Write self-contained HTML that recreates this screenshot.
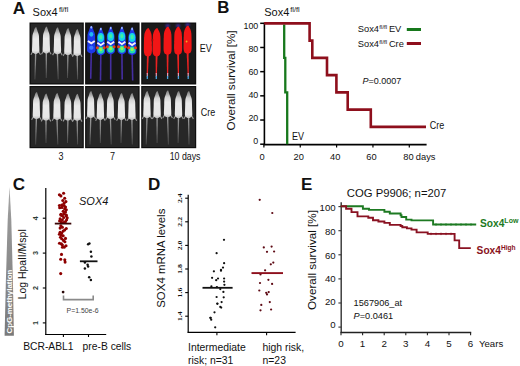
<!DOCTYPE html>
<html><head><meta charset="utf-8"><style>
html,body{margin:0;padding:0;background:#fff;}
body{width:520px;height:366px;overflow:hidden;}
svg{display:block;}
</style></head><body>
<svg width="520" height="366" viewBox="0 0 520 366">
<rect width="520" height="366" fill="#fff"/>
<text x="12.8" y="13.5" font-size="17.2" text-anchor="start" font-weight="bold" font-style="normal" fill="#111" font-family='"Liberation Sans", sans-serif' >A</text>
<text x="32.6" y="15.8" font-size="11" fill="#111" font-family='"Liberation Sans", sans-serif'>Sox4<tspan font-size="7.4" dx="1.2" dy="-4.2">fl/fl</tspan></text>
<defs>
<linearGradient id="gw" x1="0" y1="0" x2="0" y2="1"><stop offset="0" stop-color="#7c7c7c"/><stop offset="0.12" stop-color="#a2a2a2"/><stop offset="0.26" stop-color="#d4d4d4"/><stop offset="0.45" stop-color="#eaeaea"/><stop offset="0.88" stop-color="#e6e6e6"/><stop offset="1" stop-color="#c0c0c0"/></linearGradient>
<linearGradient id="gt" x1="0" y1="0" x2="0" y2="1"><stop offset="0" stop-color="#a0a0a0"/><stop offset="0.5" stop-color="#7c7c7c"/><stop offset="1" stop-color="#444444"/></linearGradient>
<linearGradient id="gtri" x1="0" y1="0" x2="0" y2="1"><stop offset="0" stop-color="#a8a8a8"/><stop offset="0.2" stop-color="#989898"/><stop offset="1" stop-color="#7a7a7a"/></linearGradient>
<filter id="bl" filterUnits="userSpaceOnUse" x="0" y="0" width="520" height="366"><feGaussianBlur stdDeviation="0.5"/></filter>
<filter id="bl2" filterUnits="userSpaceOnUse" x="0" y="0" width="520" height="366"><feGaussianBlur stdDeviation="0.8"/></filter>
</defs>
<rect x="29.5" y="22.5" width="54.3" height="62.0" fill="#0e0e0e"/>
<rect x="30.7" y="23.7" width="51.9" height="59.6" fill="#272727"/>
<polygon points="35.00,52.50 36.40,52.50 35.40,79.50 34.40,79.50" fill="url(#gt)" filter="url(#bl)"/>
<path d="M32.90,51.30 L30.90,54.70 M38.50,51.30 L40.50,54.70" stroke="#9a9a9a" stroke-width="1.1" fill="none" filter="url(#bl)"/>
<path d="M36.10,26.90 C36.43,26.90 36.52,27.90 36.70,28.40 C36.88,28.90 37.04,29.40 37.20,29.90 C37.36,30.40 37.48,30.90 37.65,31.40 C37.83,31.90 38.08,32.40 38.25,32.90 C38.42,33.40 38.58,33.82 38.70,34.40 C38.83,34.98 38.93,35.32 39.00,36.40 C39.07,37.48 39.06,39.32 39.10,40.90 C39.14,42.48 39.20,44.40 39.25,45.90 C39.30,47.40 39.42,48.90 39.40,49.90 C39.38,50.90 39.37,51.37 39.15,51.90 C38.93,52.43 38.48,52.80 38.10,53.10 C37.73,53.40 37.30,53.57 36.90,53.70 C36.50,53.83 36.10,53.90 35.70,53.90 C35.30,53.90 34.90,53.83 34.50,53.70 C34.10,53.57 33.68,53.40 33.30,53.10 C32.93,52.80 32.47,52.43 32.25,51.90 C32.03,51.37 32.02,50.90 32.00,49.90 C31.98,48.90 32.10,47.40 32.15,45.90 C32.20,44.40 32.26,42.48 32.30,40.90 C32.34,39.32 32.33,37.48 32.40,36.40 C32.47,35.32 32.58,34.98 32.70,34.40 C32.83,33.82 32.98,33.40 33.15,32.90 C33.33,32.40 33.58,31.90 33.75,31.40 C33.92,30.90 34.04,30.40 34.20,29.90 C34.36,29.40 34.38,28.90 34.70,28.40 C35.02,27.90 35.77,26.90 36.10,26.90 Z" fill="url(#gw)" filter="url(#bl)"/>
<polygon points="45.60,52.00 47.00,52.00 46.80,78.00 45.80,78.00" fill="url(#gt)" filter="url(#bl)"/>
<path d="M43.50,50.80 L41.50,54.20 M49.10,50.80 L51.10,54.20" stroke="#9a9a9a" stroke-width="1.1" fill="none" filter="url(#bl)"/>
<path d="M46.70,26.40 C47.03,26.40 47.12,27.40 47.30,27.90 C47.48,28.40 47.64,28.90 47.80,29.40 C47.96,29.90 48.08,30.40 48.25,30.90 C48.42,31.40 48.67,31.90 48.85,32.40 C49.02,32.90 49.17,33.32 49.30,33.90 C49.42,34.48 49.53,34.82 49.60,35.90 C49.67,36.98 49.66,38.82 49.70,40.40 C49.74,41.98 49.80,43.90 49.85,45.40 C49.90,46.90 50.02,48.40 50.00,49.40 C49.98,50.40 49.97,50.87 49.75,51.40 C49.53,51.93 49.07,52.30 48.70,52.60 C48.32,52.90 47.90,53.07 47.50,53.20 C47.10,53.33 46.70,53.40 46.30,53.40 C45.90,53.40 45.50,53.33 45.10,53.20 C44.70,53.07 44.27,52.90 43.90,52.60 C43.52,52.30 43.07,51.93 42.85,51.40 C42.63,50.87 42.62,50.40 42.60,49.40 C42.58,48.40 42.70,46.90 42.75,45.40 C42.80,43.90 42.86,41.98 42.90,40.40 C42.94,38.82 42.93,36.98 43.00,35.90 C43.07,34.82 43.17,34.48 43.30,33.90 C43.42,33.32 43.58,32.90 43.75,32.40 C43.92,31.90 44.17,31.40 44.35,30.90 C44.52,30.40 44.64,29.90 44.80,29.40 C44.96,28.90 44.98,28.40 45.30,27.90 C45.62,27.40 46.37,26.40 46.70,26.40 Z" fill="url(#gw)" filter="url(#bl)"/>
<polygon points="56.70,52.90 58.10,52.90 58.70,79.50 57.70,79.50" fill="url(#gt)" filter="url(#bl)"/>
<path d="M54.60,51.70 L52.60,55.10 M60.20,51.70 L62.20,55.10" stroke="#9a9a9a" stroke-width="1.1" fill="none" filter="url(#bl)"/>
<path d="M57.80,27.30 C58.13,27.30 58.22,28.30 58.40,28.80 C58.58,29.30 58.74,29.80 58.90,30.30 C59.06,30.80 59.18,31.30 59.35,31.80 C59.52,32.30 59.77,32.80 59.95,33.30 C60.12,33.80 60.27,34.22 60.40,34.80 C60.52,35.38 60.63,35.72 60.70,36.80 C60.77,37.88 60.76,39.72 60.80,41.30 C60.84,42.88 60.90,44.80 60.95,46.30 C61.00,47.80 61.12,49.30 61.10,50.30 C61.08,51.30 61.07,51.77 60.85,52.30 C60.63,52.83 60.17,53.20 59.80,53.50 C59.42,53.80 59.00,53.97 58.60,54.10 C58.20,54.23 57.80,54.30 57.40,54.30 C57.00,54.30 56.60,54.23 56.20,54.10 C55.80,53.97 55.38,53.80 55.00,53.50 C54.62,53.20 54.17,52.83 53.95,52.30 C53.73,51.77 53.72,51.30 53.70,50.30 C53.68,49.30 53.80,47.80 53.85,46.30 C53.90,44.80 53.96,42.88 54.00,41.30 C54.04,39.72 54.03,37.88 54.10,36.80 C54.17,35.72 54.27,35.38 54.40,34.80 C54.52,34.22 54.68,33.80 54.85,33.30 C55.02,32.80 55.27,32.30 55.45,31.80 C55.62,31.30 55.74,30.80 55.90,30.30 C56.06,29.80 56.08,29.30 56.40,28.80 C56.72,28.30 57.47,27.30 57.80,27.30 Z" fill="url(#gw)" filter="url(#bl)"/>
<polygon points="67.20,53.70 68.60,53.70 68.00,78.00 67.00,78.00" fill="url(#gt)" filter="url(#bl)"/>
<path d="M65.10,52.50 L63.10,55.90 M70.70,52.50 L72.70,55.90" stroke="#9a9a9a" stroke-width="1.1" fill="none" filter="url(#bl)"/>
<path d="M68.30,28.10 C68.63,28.10 68.72,29.10 68.90,29.60 C69.08,30.10 69.24,30.60 69.40,31.10 C69.56,31.60 69.68,32.10 69.85,32.60 C70.03,33.10 70.28,33.60 70.45,34.10 C70.62,34.60 70.78,35.02 70.90,35.60 C71.03,36.18 71.13,36.52 71.20,37.60 C71.27,38.68 71.26,40.52 71.30,42.10 C71.34,43.68 71.40,45.60 71.45,47.10 C71.50,48.60 71.62,50.10 71.60,51.10 C71.58,52.10 71.57,52.57 71.35,53.10 C71.13,53.63 70.68,54.00 70.30,54.30 C69.93,54.60 69.50,54.77 69.10,54.90 C68.70,55.03 68.30,55.10 67.90,55.10 C67.50,55.10 67.10,55.03 66.70,54.90 C66.30,54.77 65.88,54.60 65.50,54.30 C65.12,54.00 64.67,53.63 64.45,53.10 C64.23,52.57 64.22,52.10 64.20,51.10 C64.18,50.10 64.30,48.60 64.35,47.10 C64.40,45.60 64.46,43.68 64.50,42.10 C64.54,40.52 64.53,38.68 64.60,37.60 C64.67,36.52 64.78,36.18 64.90,35.60 C65.03,35.02 65.18,34.60 65.35,34.10 C65.53,33.60 65.78,33.10 65.95,32.60 C66.12,32.10 66.24,31.60 66.40,31.10 C66.56,30.60 66.58,30.10 66.90,29.60 C67.22,29.10 67.97,28.10 68.30,28.10 Z" fill="url(#gw)" filter="url(#bl)"/>
<polygon points="76.50,54.60 77.90,54.60 78.10,79.50 77.10,79.50" fill="url(#gt)" filter="url(#bl)"/>
<path d="M74.40,53.40 L72.40,56.80 M80.00,53.40 L82.00,56.80" stroke="#9a9a9a" stroke-width="1.1" fill="none" filter="url(#bl)"/>
<path d="M77.60,29.00 C77.93,29.00 78.02,30.00 78.20,30.50 C78.38,31.00 78.54,31.50 78.70,32.00 C78.86,32.50 78.98,33.00 79.15,33.50 C79.33,34.00 79.58,34.50 79.75,35.00 C79.92,35.50 80.08,35.92 80.20,36.50 C80.33,37.08 80.43,37.42 80.50,38.50 C80.57,39.58 80.56,41.42 80.60,43.00 C80.64,44.58 80.70,46.50 80.75,48.00 C80.80,49.50 80.92,51.00 80.90,52.00 C80.88,53.00 80.87,53.47 80.65,54.00 C80.43,54.53 79.98,54.90 79.60,55.20 C79.23,55.50 78.80,55.67 78.40,55.80 C78.00,55.93 77.60,56.00 77.20,56.00 C76.80,56.00 76.40,55.93 76.00,55.80 C75.60,55.67 75.17,55.50 74.80,55.20 C74.42,54.90 73.97,54.53 73.75,54.00 C73.53,53.47 73.52,53.00 73.50,52.00 C73.48,51.00 73.60,49.50 73.65,48.00 C73.70,46.50 73.76,44.58 73.80,43.00 C73.84,41.42 73.83,39.58 73.90,38.50 C73.97,37.42 74.08,37.08 74.20,36.50 C74.33,35.92 74.48,35.50 74.65,35.00 C74.83,34.50 75.08,34.00 75.25,33.50 C75.42,33.00 75.54,32.50 75.70,32.00 C75.86,31.50 75.88,31.00 76.20,30.50 C76.52,30.00 77.27,29.00 77.60,29.00 Z" fill="url(#gw)" filter="url(#bl)"/>
<rect x="29.5" y="86.0" width="54.3" height="62.19999999999999" fill="#0e0e0e"/>
<rect x="30.7" y="87.2" width="51.9" height="59.79999999999999" fill="#272727"/>
<polygon points="35.70,117.60 37.10,117.60 36.10,144.50 35.10,144.50" fill="url(#gt)" filter="url(#bl)"/>
<path d="M33.60,116.40 L31.60,119.80 M39.20,116.40 L41.20,119.80" stroke="#9a9a9a" stroke-width="1.1" fill="none" filter="url(#bl)"/>
<path d="M36.80,92.00 C37.13,92.00 37.22,93.00 37.40,93.50 C37.58,94.00 37.74,94.50 37.90,95.00 C38.06,95.50 38.18,96.00 38.35,96.50 C38.52,97.00 38.77,97.50 38.95,98.00 C39.12,98.50 39.27,98.92 39.40,99.50 C39.52,100.08 39.63,100.42 39.70,101.50 C39.77,102.58 39.76,104.42 39.80,106.00 C39.84,107.58 39.90,109.50 39.95,111.00 C40.00,112.50 40.12,114.00 40.10,115.00 C40.08,116.00 40.07,116.47 39.85,117.00 C39.63,117.53 39.17,117.90 38.80,118.20 C38.42,118.50 38.00,118.67 37.60,118.80 C37.20,118.93 36.80,119.00 36.40,119.00 C36.00,119.00 35.60,118.93 35.20,118.80 C34.80,118.67 34.38,118.50 34.00,118.20 C33.62,117.90 33.17,117.53 32.95,117.00 C32.73,116.47 32.72,116.00 32.70,115.00 C32.68,114.00 32.80,112.50 32.85,111.00 C32.90,109.50 32.96,107.58 33.00,106.00 C33.04,104.42 33.03,102.58 33.10,101.50 C33.17,100.42 33.27,100.08 33.40,99.50 C33.52,98.92 33.68,98.50 33.85,98.00 C34.02,97.50 34.27,97.00 34.45,96.50 C34.62,96.00 34.74,95.50 34.90,95.00 C35.06,94.50 35.08,94.00 35.40,93.50 C35.72,93.00 36.47,92.00 36.80,92.00 Z" fill="url(#gw)" filter="url(#bl)"/>
<polygon points="45.30,119.20 46.70,119.20 46.50,143.00 45.50,143.00" fill="url(#gt)" filter="url(#bl)"/>
<path d="M43.20,118.00 L41.20,121.40 M48.80,118.00 L50.80,121.40" stroke="#9a9a9a" stroke-width="1.1" fill="none" filter="url(#bl)"/>
<path d="M46.40,93.60 C46.73,93.60 46.82,94.60 47.00,95.10 C47.18,95.60 47.34,96.10 47.50,96.60 C47.66,97.10 47.78,97.60 47.95,98.10 C48.12,98.60 48.38,99.10 48.55,99.60 C48.72,100.10 48.88,100.52 49.00,101.10 C49.12,101.68 49.23,102.02 49.30,103.10 C49.37,104.18 49.36,106.02 49.40,107.60 C49.44,109.18 49.50,111.10 49.55,112.60 C49.60,114.10 49.72,115.60 49.70,116.60 C49.68,117.60 49.67,118.07 49.45,118.60 C49.23,119.13 48.77,119.50 48.40,119.80 C48.02,120.10 47.60,120.27 47.20,120.40 C46.80,120.53 46.40,120.60 46.00,120.60 C45.60,120.60 45.20,120.53 44.80,120.40 C44.40,120.27 43.98,120.10 43.60,119.80 C43.23,119.50 42.77,119.13 42.55,118.60 C42.33,118.07 42.32,117.60 42.30,116.60 C42.28,115.60 42.40,114.10 42.45,112.60 C42.50,111.10 42.56,109.18 42.60,107.60 C42.64,106.02 42.63,104.18 42.70,103.10 C42.77,102.02 42.88,101.68 43.00,101.10 C43.12,100.52 43.28,100.10 43.45,99.60 C43.62,99.10 43.88,98.60 44.05,98.10 C44.22,97.60 44.34,97.10 44.50,96.60 C44.66,96.10 44.68,95.60 45.00,95.10 C45.32,94.60 46.07,93.60 46.40,93.60 Z" fill="url(#gw)" filter="url(#bl)"/>
<polygon points="56.30,118.50 57.70,118.50 58.30,144.50 57.30,144.50" fill="url(#gt)" filter="url(#bl)"/>
<path d="M54.20,117.30 L52.20,120.70 M59.80,117.30 L61.80,120.70" stroke="#9a9a9a" stroke-width="1.1" fill="none" filter="url(#bl)"/>
<path d="M57.40,92.90 C57.73,92.90 57.82,93.90 58.00,94.40 C58.18,94.90 58.34,95.40 58.50,95.90 C58.66,96.40 58.78,96.90 58.95,97.40 C59.12,97.90 59.38,98.40 59.55,98.90 C59.72,99.40 59.88,99.82 60.00,100.40 C60.12,100.98 60.23,101.32 60.30,102.40 C60.37,103.48 60.36,105.32 60.40,106.90 C60.44,108.48 60.50,110.40 60.55,111.90 C60.60,113.40 60.72,114.90 60.70,115.90 C60.68,116.90 60.67,117.37 60.45,117.90 C60.23,118.43 59.77,118.80 59.40,119.10 C59.02,119.40 58.60,119.57 58.20,119.70 C57.80,119.83 57.40,119.90 57.00,119.90 C56.60,119.90 56.20,119.83 55.80,119.70 C55.40,119.57 54.98,119.40 54.60,119.10 C54.23,118.80 53.77,118.43 53.55,117.90 C53.33,117.37 53.32,116.90 53.30,115.90 C53.28,114.90 53.40,113.40 53.45,111.90 C53.50,110.40 53.56,108.48 53.60,106.90 C53.64,105.32 53.63,103.48 53.70,102.40 C53.77,101.32 53.88,100.98 54.00,100.40 C54.12,99.82 54.28,99.40 54.45,98.90 C54.62,98.40 54.88,97.90 55.05,97.40 C55.22,96.90 55.34,96.40 55.50,95.90 C55.66,95.40 55.68,94.90 56.00,94.40 C56.32,93.90 57.07,92.90 57.40,92.90 Z" fill="url(#gw)" filter="url(#bl)"/>
<polygon points="67.20,119.20 68.60,119.20 68.00,143.00 67.00,143.00" fill="url(#gt)" filter="url(#bl)"/>
<path d="M65.10,118.00 L63.10,121.40 M70.70,118.00 L72.70,121.40" stroke="#9a9a9a" stroke-width="1.1" fill="none" filter="url(#bl)"/>
<path d="M68.30,93.60 C68.63,93.60 68.72,94.60 68.90,95.10 C69.08,95.60 69.24,96.10 69.40,96.60 C69.56,97.10 69.68,97.60 69.85,98.10 C70.03,98.60 70.28,99.10 70.45,99.60 C70.62,100.10 70.78,100.52 70.90,101.10 C71.03,101.68 71.13,102.02 71.20,103.10 C71.27,104.18 71.26,106.02 71.30,107.60 C71.34,109.18 71.40,111.10 71.45,112.60 C71.50,114.10 71.62,115.60 71.60,116.60 C71.58,117.60 71.57,118.07 71.35,118.60 C71.13,119.13 70.68,119.50 70.30,119.80 C69.93,120.10 69.50,120.27 69.10,120.40 C68.70,120.53 68.30,120.60 67.90,120.60 C67.50,120.60 67.10,120.53 66.70,120.40 C66.30,120.27 65.88,120.10 65.50,119.80 C65.12,119.50 64.67,119.13 64.45,118.60 C64.23,118.07 64.22,117.60 64.20,116.60 C64.18,115.60 64.30,114.10 64.35,112.60 C64.40,111.10 64.46,109.18 64.50,107.60 C64.54,106.02 64.53,104.18 64.60,103.10 C64.67,102.02 64.78,101.68 64.90,101.10 C65.03,100.52 65.18,100.10 65.35,99.60 C65.53,99.10 65.78,98.60 65.95,98.10 C66.12,97.60 66.24,97.10 66.40,96.60 C66.56,96.10 66.58,95.60 66.90,95.10 C67.22,94.60 67.97,93.60 68.30,93.60 Z" fill="url(#gw)" filter="url(#bl)"/>
<polygon points="76.50,119.40 77.90,119.40 78.10,144.50 77.10,144.50" fill="url(#gt)" filter="url(#bl)"/>
<path d="M74.40,118.20 L72.40,121.60 M80.00,118.20 L82.00,121.60" stroke="#9a9a9a" stroke-width="1.1" fill="none" filter="url(#bl)"/>
<path d="M77.60,93.80 C77.93,93.80 78.02,94.80 78.20,95.30 C78.38,95.80 78.54,96.30 78.70,96.80 C78.86,97.30 78.98,97.80 79.15,98.30 C79.33,98.80 79.58,99.30 79.75,99.80 C79.92,100.30 80.08,100.72 80.20,101.30 C80.33,101.88 80.43,102.22 80.50,103.30 C80.57,104.38 80.56,106.22 80.60,107.80 C80.64,109.38 80.70,111.30 80.75,112.80 C80.80,114.30 80.92,115.80 80.90,116.80 C80.88,117.80 80.87,118.27 80.65,118.80 C80.43,119.33 79.98,119.70 79.60,120.00 C79.23,120.30 78.80,120.47 78.40,120.60 C78.00,120.73 77.60,120.80 77.20,120.80 C76.80,120.80 76.40,120.73 76.00,120.60 C75.60,120.47 75.17,120.30 74.80,120.00 C74.42,119.70 73.97,119.33 73.75,118.80 C73.53,118.27 73.52,117.80 73.50,116.80 C73.48,115.80 73.60,114.30 73.65,112.80 C73.70,111.30 73.76,109.38 73.80,107.80 C73.84,106.22 73.83,104.38 73.90,103.30 C73.97,102.22 74.08,101.88 74.20,101.30 C74.33,100.72 74.48,100.30 74.65,99.80 C74.83,99.30 75.08,98.80 75.25,98.30 C75.42,97.80 75.54,97.30 75.70,96.80 C75.86,96.30 75.88,95.80 76.20,95.30 C76.52,94.80 77.27,93.80 77.60,93.80 Z" fill="url(#gw)" filter="url(#bl)"/>
<rect x="85.1" y="86.0" width="54.5" height="62.19999999999999" fill="#0e0e0e"/>
<rect x="86.3" y="87.2" width="52.1" height="59.79999999999999" fill="#272727"/>
<polygon points="90.10,116.60 91.50,116.60 90.50,144.50 89.50,144.50" fill="url(#gt)" filter="url(#bl)"/>
<path d="M88.00,115.40 L86.00,118.80 M93.60,115.40 L95.60,118.80" stroke="#9a9a9a" stroke-width="1.1" fill="none" filter="url(#bl)"/>
<path d="M91.20,91.00 C91.53,91.00 91.62,92.00 91.80,92.50 C91.98,93.00 92.14,93.50 92.30,94.00 C92.46,94.50 92.58,95.00 92.75,95.50 C92.92,96.00 93.17,96.50 93.35,97.00 C93.52,97.50 93.67,97.92 93.80,98.50 C93.92,99.08 94.03,99.42 94.10,100.50 C94.17,101.58 94.16,103.42 94.20,105.00 C94.24,106.58 94.30,108.50 94.35,110.00 C94.40,111.50 94.52,113.00 94.50,114.00 C94.48,115.00 94.47,115.47 94.25,116.00 C94.03,116.53 93.58,116.90 93.20,117.20 C92.83,117.50 92.40,117.67 92.00,117.80 C91.60,117.93 91.20,118.00 90.80,118.00 C90.40,118.00 90.00,117.93 89.60,117.80 C89.20,117.67 88.77,117.50 88.40,117.20 C88.02,116.90 87.57,116.53 87.35,116.00 C87.13,115.47 87.12,115.00 87.10,114.00 C87.08,113.00 87.20,111.50 87.25,110.00 C87.30,108.50 87.36,106.58 87.40,105.00 C87.44,103.42 87.43,101.58 87.50,100.50 C87.57,99.42 87.67,99.08 87.80,98.50 C87.92,97.92 88.08,97.50 88.25,97.00 C88.42,96.50 88.67,96.00 88.85,95.50 C89.02,95.00 89.14,94.50 89.30,94.00 C89.46,93.50 89.48,93.00 89.80,92.50 C90.12,92.00 90.87,91.00 91.20,91.00 Z" fill="url(#gw)" filter="url(#bl)"/>
<polygon points="99.70,118.50 101.10,118.50 100.90,143.00 99.90,143.00" fill="url(#gt)" filter="url(#bl)"/>
<path d="M97.60,117.30 L95.60,120.70 M103.20,117.30 L105.20,120.70" stroke="#9a9a9a" stroke-width="1.1" fill="none" filter="url(#bl)"/>
<path d="M100.80,92.90 C101.13,92.90 101.22,93.90 101.40,94.40 C101.58,94.90 101.74,95.40 101.90,95.90 C102.06,96.40 102.18,96.90 102.35,97.40 C102.53,97.90 102.78,98.40 102.95,98.90 C103.12,99.40 103.28,99.82 103.40,100.40 C103.53,100.98 103.63,101.32 103.70,102.40 C103.77,103.48 103.76,105.32 103.80,106.90 C103.84,108.48 103.90,110.40 103.95,111.90 C104.00,113.40 104.12,114.90 104.10,115.90 C104.08,116.90 104.07,117.37 103.85,117.90 C103.63,118.43 103.18,118.80 102.80,119.10 C102.43,119.40 102.00,119.57 101.60,119.70 C101.20,119.83 100.80,119.90 100.40,119.90 C100.00,119.90 99.60,119.83 99.20,119.70 C98.80,119.57 98.38,119.40 98.00,119.10 C97.62,118.80 97.17,118.43 96.95,117.90 C96.73,117.37 96.72,116.90 96.70,115.90 C96.68,114.90 96.80,113.40 96.85,111.90 C96.90,110.40 96.96,108.48 97.00,106.90 C97.04,105.32 97.03,103.48 97.10,102.40 C97.17,101.32 97.28,100.98 97.40,100.40 C97.53,99.82 97.68,99.40 97.85,98.90 C98.03,98.40 98.28,97.90 98.45,97.40 C98.62,96.90 98.74,96.40 98.90,95.90 C99.06,95.40 99.08,94.90 99.40,94.40 C99.72,93.90 100.47,92.90 100.80,92.90 Z" fill="url(#gw)" filter="url(#bl)"/>
<polygon points="109.70,117.60 111.10,117.60 111.70,144.50 110.70,144.50" fill="url(#gt)" filter="url(#bl)"/>
<path d="M107.60,116.40 L105.60,119.80 M113.20,116.40 L115.20,119.80" stroke="#9a9a9a" stroke-width="1.1" fill="none" filter="url(#bl)"/>
<path d="M110.80,92.00 C111.13,92.00 111.22,93.00 111.40,93.50 C111.58,94.00 111.74,94.50 111.90,95.00 C112.06,95.50 112.18,96.00 112.35,96.50 C112.53,97.00 112.78,97.50 112.95,98.00 C113.12,98.50 113.28,98.92 113.40,99.50 C113.53,100.08 113.63,100.42 113.70,101.50 C113.77,102.58 113.76,104.42 113.80,106.00 C113.84,107.58 113.90,109.50 113.95,111.00 C114.00,112.50 114.12,114.00 114.10,115.00 C114.08,116.00 114.07,116.47 113.85,117.00 C113.63,117.53 113.18,117.90 112.80,118.20 C112.43,118.50 112.00,118.67 111.60,118.80 C111.20,118.93 110.80,119.00 110.40,119.00 C110.00,119.00 109.60,118.93 109.20,118.80 C108.80,118.67 108.38,118.50 108.00,118.20 C107.62,117.90 107.17,117.53 106.95,117.00 C106.73,116.47 106.72,116.00 106.70,115.00 C106.68,114.00 106.80,112.50 106.85,111.00 C106.90,109.50 106.96,107.58 107.00,106.00 C107.04,104.42 107.03,102.58 107.10,101.50 C107.17,100.42 107.28,100.08 107.40,99.50 C107.53,98.92 107.68,98.50 107.85,98.00 C108.03,97.50 108.28,97.00 108.45,96.50 C108.62,96.00 108.74,95.50 108.90,95.00 C109.06,94.50 109.08,94.00 109.40,93.50 C109.72,93.00 110.47,92.00 110.80,92.00 Z" fill="url(#gw)" filter="url(#bl)"/>
<polygon points="120.70,118.50 122.10,118.50 121.50,143.00 120.50,143.00" fill="url(#gt)" filter="url(#bl)"/>
<path d="M118.60,117.30 L116.60,120.70 M124.20,117.30 L126.20,120.70" stroke="#9a9a9a" stroke-width="1.1" fill="none" filter="url(#bl)"/>
<path d="M121.80,92.90 C122.13,92.90 122.22,93.90 122.40,94.40 C122.58,94.90 122.74,95.40 122.90,95.90 C123.06,96.40 123.18,96.90 123.35,97.40 C123.53,97.90 123.78,98.40 123.95,98.90 C124.12,99.40 124.28,99.82 124.40,100.40 C124.53,100.98 124.63,101.32 124.70,102.40 C124.77,103.48 124.76,105.32 124.80,106.90 C124.84,108.48 124.90,110.40 124.95,111.90 C125.00,113.40 125.12,114.90 125.10,115.90 C125.08,116.90 125.07,117.37 124.85,117.90 C124.63,118.43 124.18,118.80 123.80,119.10 C123.43,119.40 123.00,119.57 122.60,119.70 C122.20,119.83 121.80,119.90 121.40,119.90 C121.00,119.90 120.60,119.83 120.20,119.70 C119.80,119.57 119.38,119.40 119.00,119.10 C118.62,118.80 118.17,118.43 117.95,117.90 C117.73,117.37 117.72,116.90 117.70,115.90 C117.68,114.90 117.80,113.40 117.85,111.90 C117.90,110.40 117.96,108.48 118.00,106.90 C118.04,105.32 118.03,103.48 118.10,102.40 C118.17,101.32 118.28,100.98 118.40,100.40 C118.53,99.82 118.68,99.40 118.85,98.90 C119.03,98.40 119.28,97.90 119.45,97.40 C119.62,96.90 119.74,96.40 119.90,95.90 C120.06,95.40 120.08,94.90 120.40,94.40 C120.72,93.90 121.47,92.90 121.80,92.90 Z" fill="url(#gw)" filter="url(#bl)"/>
<polygon points="131.20,118.50 132.60,118.50 132.80,144.50 131.80,144.50" fill="url(#gt)" filter="url(#bl)"/>
<path d="M129.10,117.30 L127.10,120.70 M134.70,117.30 L136.70,120.70" stroke="#9a9a9a" stroke-width="1.1" fill="none" filter="url(#bl)"/>
<path d="M132.30,92.90 C132.63,92.90 132.72,93.90 132.90,94.40 C133.08,94.90 133.24,95.40 133.40,95.90 C133.56,96.40 133.67,96.90 133.85,97.40 C134.03,97.90 134.28,98.40 134.45,98.90 C134.63,99.40 134.78,99.82 134.90,100.40 C135.03,100.98 135.13,101.32 135.20,102.40 C135.27,103.48 135.26,105.32 135.30,106.90 C135.34,108.48 135.40,110.40 135.45,111.90 C135.50,113.40 135.62,114.90 135.60,115.90 C135.58,116.90 135.57,117.37 135.35,117.90 C135.13,118.43 134.68,118.80 134.30,119.10 C133.93,119.40 133.50,119.57 133.10,119.70 C132.70,119.83 132.30,119.90 131.90,119.90 C131.50,119.90 131.10,119.83 130.70,119.70 C130.30,119.57 129.88,119.40 129.50,119.10 C129.12,118.80 128.67,118.43 128.45,117.90 C128.23,117.37 128.22,116.90 128.20,115.90 C128.18,114.90 128.30,113.40 128.35,111.90 C128.40,110.40 128.46,108.48 128.50,106.90 C128.54,105.32 128.53,103.48 128.60,102.40 C128.67,101.32 128.78,100.98 128.90,100.40 C129.03,99.82 129.17,99.40 129.35,98.90 C129.53,98.40 129.78,97.90 129.95,97.40 C130.13,96.90 130.24,96.40 130.40,95.90 C130.56,95.40 130.58,94.90 130.90,94.40 C131.22,93.90 131.97,92.90 132.30,92.90 Z" fill="url(#gw)" filter="url(#bl)"/>
<rect x="141.2" y="86.0" width="55.0" height="62.19999999999999" fill="#0e0e0e"/>
<rect x="142.39999999999998" y="87.2" width="52.6" height="59.79999999999999" fill="#272727"/>
<polygon points="146.30,116.70 147.70,116.70 146.70,144.40 145.70,144.40" fill="url(#gt)" filter="url(#bl)"/>
<path d="M144.20,115.50 L142.20,118.90 M149.80,115.50 L151.80,118.90" stroke="#9a9a9a" stroke-width="1.1" fill="none" filter="url(#bl)"/>
<path d="M147.40,91.10 C147.73,91.10 147.82,92.10 148.00,92.60 C148.18,93.10 148.34,93.60 148.50,94.10 C148.66,94.60 148.77,95.10 148.95,95.60 C149.12,96.10 149.38,96.60 149.55,97.10 C149.73,97.60 149.88,98.02 150.00,98.60 C150.12,99.18 150.23,99.52 150.30,100.60 C150.37,101.68 150.36,103.52 150.40,105.10 C150.44,106.68 150.50,108.60 150.55,110.10 C150.60,111.60 150.72,113.10 150.70,114.10 C150.68,115.10 150.67,115.57 150.45,116.10 C150.23,116.63 149.78,117.00 149.40,117.30 C149.03,117.60 148.60,117.77 148.20,117.90 C147.80,118.03 147.40,118.10 147.00,118.10 C146.60,118.10 146.20,118.03 145.80,117.90 C145.40,117.77 144.97,117.60 144.60,117.30 C144.22,117.00 143.77,116.63 143.55,116.10 C143.33,115.57 143.32,115.10 143.30,114.10 C143.28,113.10 143.40,111.60 143.45,110.10 C143.50,108.60 143.56,106.68 143.60,105.10 C143.64,103.52 143.63,101.68 143.70,100.60 C143.77,99.52 143.88,99.18 144.00,98.60 C144.12,98.02 144.27,97.60 144.45,97.10 C144.62,96.60 144.88,96.10 145.05,95.60 C145.23,95.10 145.34,94.60 145.50,94.10 C145.66,93.60 145.68,93.10 146.00,92.60 C146.32,92.10 147.07,91.10 147.40,91.10 Z" fill="url(#gw)" filter="url(#bl)"/>
<polygon points="156.40,116.70 157.80,116.70 157.60,142.90 156.60,142.90" fill="url(#gt)" filter="url(#bl)"/>
<path d="M154.30,115.50 L152.30,118.90 M159.90,115.50 L161.90,118.90" stroke="#9a9a9a" stroke-width="1.1" fill="none" filter="url(#bl)"/>
<path d="M157.50,91.10 C157.83,91.10 157.92,92.10 158.10,92.60 C158.28,93.10 158.44,93.60 158.60,94.10 C158.76,94.60 158.87,95.10 159.05,95.60 C159.22,96.10 159.47,96.60 159.65,97.10 C159.83,97.60 159.97,98.02 160.10,98.60 C160.22,99.18 160.33,99.52 160.40,100.60 C160.47,101.68 160.46,103.52 160.50,105.10 C160.54,106.68 160.60,108.60 160.65,110.10 C160.70,111.60 160.82,113.10 160.80,114.10 C160.78,115.10 160.77,115.57 160.55,116.10 C160.33,116.63 159.88,117.00 159.50,117.30 C159.12,117.60 158.70,117.77 158.30,117.90 C157.90,118.03 157.50,118.10 157.10,118.10 C156.70,118.10 156.30,118.03 155.90,117.90 C155.50,117.77 155.07,117.60 154.70,117.30 C154.32,117.00 153.87,116.63 153.65,116.10 C153.43,115.57 153.42,115.10 153.40,114.10 C153.38,113.10 153.50,111.60 153.55,110.10 C153.60,108.60 153.66,106.68 153.70,105.10 C153.74,103.52 153.73,101.68 153.80,100.60 C153.87,99.52 153.97,99.18 154.10,98.60 C154.22,98.02 154.37,97.60 154.55,97.10 C154.72,96.60 154.97,96.10 155.15,95.60 C155.33,95.10 155.44,94.60 155.60,94.10 C155.76,93.60 155.78,93.10 156.10,92.60 C156.42,92.10 157.17,91.10 157.50,91.10 Z" fill="url(#gw)" filter="url(#bl)"/>
<polygon points="166.90,115.80 168.30,115.80 168.90,144.40 167.90,144.40" fill="url(#gt)" filter="url(#bl)"/>
<path d="M164.80,114.60 L162.80,118.00 M170.40,114.60 L172.40,118.00" stroke="#9a9a9a" stroke-width="1.1" fill="none" filter="url(#bl)"/>
<path d="M168.00,90.20 C168.33,90.20 168.42,91.20 168.60,91.70 C168.78,92.20 168.94,92.70 169.10,93.20 C169.26,93.70 169.37,94.20 169.55,94.70 C169.72,95.20 169.97,95.70 170.15,96.20 C170.33,96.70 170.47,97.12 170.60,97.70 C170.72,98.28 170.83,98.62 170.90,99.70 C170.97,100.78 170.96,102.62 171.00,104.20 C171.04,105.78 171.10,107.70 171.15,109.20 C171.20,110.70 171.32,112.20 171.30,113.20 C171.28,114.20 171.27,114.67 171.05,115.20 C170.83,115.73 170.38,116.10 170.00,116.40 C169.62,116.70 169.20,116.87 168.80,117.00 C168.40,117.13 168.00,117.20 167.60,117.20 C167.20,117.20 166.80,117.13 166.40,117.00 C166.00,116.87 165.57,116.70 165.20,116.40 C164.82,116.10 164.37,115.73 164.15,115.20 C163.93,114.67 163.92,114.20 163.90,113.20 C163.88,112.20 164.00,110.70 164.05,109.20 C164.10,107.70 164.16,105.78 164.20,104.20 C164.24,102.62 164.23,100.78 164.30,99.70 C164.37,98.62 164.47,98.28 164.60,97.70 C164.72,97.12 164.87,96.70 165.05,96.20 C165.22,95.70 165.47,95.20 165.65,94.70 C165.83,94.20 165.94,93.70 166.10,93.20 C166.26,92.70 166.28,92.20 166.60,91.70 C166.92,91.20 167.67,90.20 168.00,90.20 Z" fill="url(#gw)" filter="url(#bl)"/>
<polygon points="177.80,116.70 179.20,116.70 178.60,142.90 177.60,142.90" fill="url(#gt)" filter="url(#bl)"/>
<path d="M175.70,115.50 L173.70,118.90 M181.30,115.50 L183.30,118.90" stroke="#9a9a9a" stroke-width="1.1" fill="none" filter="url(#bl)"/>
<path d="M178.90,91.10 C179.23,91.10 179.32,92.10 179.50,92.60 C179.68,93.10 179.84,93.60 180.00,94.10 C180.16,94.60 180.27,95.10 180.45,95.60 C180.62,96.10 180.88,96.60 181.05,97.10 C181.23,97.60 181.38,98.02 181.50,98.60 C181.62,99.18 181.73,99.52 181.80,100.60 C181.87,101.68 181.86,103.52 181.90,105.10 C181.94,106.68 182.00,108.60 182.05,110.10 C182.10,111.60 182.22,113.10 182.20,114.10 C182.18,115.10 182.17,115.57 181.95,116.10 C181.73,116.63 181.28,117.00 180.90,117.30 C180.53,117.60 180.10,117.77 179.70,117.90 C179.30,118.03 178.90,118.10 178.50,118.10 C178.10,118.10 177.70,118.03 177.30,117.90 C176.90,117.77 176.47,117.60 176.10,117.30 C175.72,117.00 175.27,116.63 175.05,116.10 C174.83,115.57 174.82,115.10 174.80,114.10 C174.78,113.10 174.90,111.60 174.95,110.10 C175.00,108.60 175.06,106.68 175.10,105.10 C175.14,103.52 175.13,101.68 175.20,100.60 C175.27,99.52 175.38,99.18 175.50,98.60 C175.62,98.02 175.77,97.60 175.95,97.10 C176.12,96.60 176.38,96.10 176.55,95.60 C176.73,95.10 176.84,94.60 177.00,94.10 C177.16,93.60 177.18,93.10 177.50,92.60 C177.82,92.10 178.57,91.10 178.90,91.10 Z" fill="url(#gw)" filter="url(#bl)"/>
<polygon points="187.90,116.70 189.30,116.70 189.50,144.40 188.50,144.40" fill="url(#gt)" filter="url(#bl)"/>
<path d="M185.80,115.50 L183.80,118.90 M191.40,115.50 L193.40,118.90" stroke="#9a9a9a" stroke-width="1.1" fill="none" filter="url(#bl)"/>
<path d="M189.00,91.10 C189.33,91.10 189.42,92.10 189.60,92.60 C189.78,93.10 189.94,93.60 190.10,94.10 C190.26,94.60 190.37,95.10 190.55,95.60 C190.72,96.10 190.97,96.60 191.15,97.10 C191.33,97.60 191.47,98.02 191.60,98.60 C191.72,99.18 191.83,99.52 191.90,100.60 C191.97,101.68 191.96,103.52 192.00,105.10 C192.04,106.68 192.10,108.60 192.15,110.10 C192.20,111.60 192.32,113.10 192.30,114.10 C192.28,115.10 192.27,115.57 192.05,116.10 C191.83,116.63 191.38,117.00 191.00,117.30 C190.62,117.60 190.20,117.77 189.80,117.90 C189.40,118.03 189.00,118.10 188.60,118.10 C188.20,118.10 187.80,118.03 187.40,117.90 C187.00,117.77 186.57,117.60 186.20,117.30 C185.82,117.00 185.37,116.63 185.15,116.10 C184.93,115.57 184.92,115.10 184.90,114.10 C184.88,113.10 185.00,111.60 185.05,110.10 C185.10,108.60 185.16,106.68 185.20,105.10 C185.24,103.52 185.23,101.68 185.30,100.60 C185.37,99.52 185.47,99.18 185.60,98.60 C185.72,98.02 185.87,97.60 186.05,97.10 C186.22,96.60 186.47,96.10 186.65,95.60 C186.83,95.10 186.94,94.60 187.10,94.10 C187.26,93.60 187.28,93.10 187.60,92.60 C187.92,92.10 188.67,91.10 189.00,91.10 Z" fill="url(#gw)" filter="url(#bl)"/>
<rect x="85.1" y="22.5" width="54.5" height="62.0" fill="#0e0e0e"/>
<rect x="86.3" y="23.7" width="52.1" height="59.6" fill="#161616"/>
<path d="M91.30,51.80 L90.70,78.80" stroke="#4a30b0" stroke-width="1.6" filter="url(#bl)" opacity="0.9"/>
<path d="M91.76,25.80 C92.14,25.80 92.24,26.82 92.45,27.33 C92.66,27.84 92.84,28.35 93.02,28.86 C93.21,29.37 93.34,29.88 93.54,30.39 C93.74,30.90 94.03,31.41 94.23,31.92 C94.43,32.43 94.61,32.86 94.75,33.45 C94.89,34.05 95.02,34.39 95.09,35.49 C95.17,36.59 95.16,38.46 95.21,40.08 C95.26,41.70 95.32,43.65 95.38,45.18 C95.44,46.71 95.57,48.24 95.55,49.26 C95.54,50.28 95.52,50.76 95.27,51.30 C95.02,51.84 94.49,52.22 94.06,52.52 C93.63,52.83 93.14,53.00 92.68,53.14 C92.22,53.27 91.76,53.34 91.30,53.34 C90.84,53.34 90.38,53.27 89.92,53.14 C89.46,53.00 88.97,52.83 88.54,52.52 C88.11,52.22 87.58,51.84 87.33,51.30 C87.08,50.76 87.06,50.28 87.05,49.26 C87.03,48.24 87.16,46.71 87.22,45.18 C87.28,43.65 87.34,41.70 87.39,40.08 C87.44,38.46 87.43,36.59 87.50,35.49 C87.58,34.39 87.71,34.05 87.85,33.45 C87.99,32.86 88.17,32.43 88.37,31.92 C88.57,31.41 88.86,30.90 89.06,30.39 C89.26,29.88 89.39,29.37 89.58,28.86 C89.76,28.35 89.79,27.84 90.15,27.33 C90.51,26.82 91.38,25.80 91.76,25.80 Z" fill="#1f38e8" filter="url(#bl)"/>
<ellipse cx="91.30" cy="27.30" rx="0.9" ry="1.4" fill="#a0b8ff" filter="url(#bl)"/>
<ellipse cx="91.30" cy="34.30" rx="2.0" ry="2.4" fill="#20b8f0" filter="url(#bl)"/>
<ellipse cx="91.30" cy="47.80" rx="2.2" ry="2.0" fill="#3878ff" filter="url(#bl)"/>
<path d="M87.90,41.00 L91.30,43.40 L94.70,41.00" stroke="#f6eef8" stroke-width="1.9" fill="none" filter="url(#bl)"/>
<path d="M100.80,53.60 L100.50,80.60" stroke="#4a30b0" stroke-width="1.6" filter="url(#bl)" opacity="0.9"/>
<path d="M101.26,27.60 C101.64,27.60 101.74,28.62 101.95,29.13 C102.16,29.64 102.34,30.15 102.52,30.66 C102.71,31.17 102.84,31.68 103.04,32.19 C103.24,32.70 103.53,33.21 103.73,33.72 C103.93,34.23 104.11,34.66 104.25,35.25 C104.39,35.84 104.52,36.19 104.59,37.29 C104.67,38.39 104.66,40.27 104.71,41.88 C104.76,43.50 104.82,45.45 104.88,46.98 C104.94,48.51 105.07,50.04 105.05,51.06 C105.04,52.08 105.02,52.56 104.77,53.10 C104.52,53.64 103.99,54.02 103.56,54.32 C103.13,54.63 102.64,54.80 102.18,54.94 C101.72,55.07 101.26,55.14 100.80,55.14 C100.34,55.14 99.88,55.07 99.42,54.94 C98.96,54.80 98.47,54.63 98.04,54.32 C97.61,54.02 97.08,53.64 96.83,53.10 C96.58,52.56 96.56,52.08 96.55,51.06 C96.53,50.04 96.66,48.51 96.72,46.98 C96.78,45.45 96.84,43.50 96.89,41.88 C96.94,40.27 96.93,38.39 97.00,37.29 C97.08,36.19 97.21,35.84 97.35,35.25 C97.49,34.66 97.67,34.23 97.87,33.72 C98.07,33.21 98.36,32.70 98.56,32.19 C98.76,31.68 98.89,31.17 99.08,30.66 C99.26,30.15 99.29,29.64 99.65,29.13 C100.01,28.62 100.88,27.60 101.26,27.60 Z" fill="#1f38e8" filter="url(#bl)"/>
<ellipse cx="100.80" cy="29.10" rx="0.9" ry="1.4" fill="#a0b8ff" filter="url(#bl)"/>
<ellipse cx="100.80" cy="37.60" rx="3.2" ry="4.6" fill="#18d4e8" filter="url(#bl)"/>
<ellipse cx="100.80" cy="37.10" rx="1.5" ry="2.2" fill="#40f0a0" filter="url(#bl)"/>
<ellipse cx="100.80" cy="50.10" rx="3.4" ry="3.6" fill="#20dcb0" filter="url(#bl)"/>
<ellipse cx="100.80" cy="49.60" rx="1.6" ry="1.8" fill="#90f850" filter="url(#bl)"/>
<circle cx="97.40" cy="47.80" r="1.5" fill="#e83a14" filter="url(#bl)"/>
<circle cx="104.20" cy="47.80" r="1.5" fill="#e83a14" filter="url(#bl)"/>
<path d="M97.40,42.80 L100.80,45.20 L104.20,42.80" stroke="#f6eef8" stroke-width="1.9" fill="none" filter="url(#bl)"/>
<path d="M110.70,52.60 L110.70,79.60" stroke="#4a30b0" stroke-width="1.6" filter="url(#bl)" opacity="0.9"/>
<path d="M111.16,26.60 C111.54,26.60 111.64,27.62 111.85,28.13 C112.06,28.64 112.24,29.15 112.42,29.66 C112.61,30.17 112.74,30.68 112.94,31.19 C113.14,31.70 113.43,32.21 113.63,32.72 C113.83,33.23 114.01,33.66 114.15,34.25 C114.29,34.84 114.42,35.19 114.50,36.29 C114.57,37.39 114.56,39.27 114.61,40.88 C114.66,42.50 114.72,44.45 114.78,45.98 C114.84,47.51 114.97,49.04 114.95,50.06 C114.94,51.08 114.92,51.56 114.67,52.10 C114.42,52.64 113.89,53.02 113.46,53.32 C113.03,53.63 112.54,53.80 112.08,53.94 C111.62,54.07 111.16,54.14 110.70,54.14 C110.24,54.14 109.78,54.07 109.32,53.94 C108.86,53.80 108.37,53.63 107.94,53.32 C107.51,53.02 106.98,52.64 106.73,52.10 C106.48,51.56 106.46,51.08 106.45,50.06 C106.43,49.04 106.56,47.51 106.62,45.98 C106.68,44.45 106.74,42.50 106.79,40.88 C106.84,39.27 106.83,37.39 106.91,36.29 C106.98,35.19 107.11,34.84 107.25,34.25 C107.39,33.66 107.57,33.23 107.77,32.72 C107.97,32.21 108.26,31.70 108.46,31.19 C108.66,30.68 108.79,30.17 108.98,29.66 C109.16,29.15 109.19,28.64 109.55,28.13 C109.91,27.62 110.78,26.60 111.16,26.60 Z" fill="#1f38e8" filter="url(#bl)"/>
<ellipse cx="110.70" cy="28.10" rx="0.9" ry="1.4" fill="#a0b8ff" filter="url(#bl)"/>
<ellipse cx="110.70" cy="36.60" rx="3.2" ry="4.6" fill="#18d4e8" filter="url(#bl)"/>
<ellipse cx="110.70" cy="36.10" rx="1.5" ry="2.2" fill="#40f0a0" filter="url(#bl)"/>
<ellipse cx="110.70" cy="49.10" rx="3.4" ry="3.6" fill="#20dcb0" filter="url(#bl)"/>
<ellipse cx="110.70" cy="48.60" rx="1.6" ry="1.8" fill="#90f850" filter="url(#bl)"/>
<circle cx="107.30" cy="46.80" r="1.5" fill="#e83a14" filter="url(#bl)"/>
<circle cx="114.10" cy="46.80" r="1.5" fill="#e83a14" filter="url(#bl)"/>
<path d="M107.30,41.80 L110.70,44.20 L114.10,41.80" stroke="#f6eef8" stroke-width="1.9" fill="none" filter="url(#bl)"/>
<path d="M121.90,52.60 L122.20,79.60" stroke="#4a30b0" stroke-width="1.6" filter="url(#bl)" opacity="0.9"/>
<path d="M122.36,26.60 C122.74,26.60 122.84,27.62 123.05,28.13 C123.26,28.64 123.44,29.15 123.62,29.66 C123.81,30.17 123.94,30.68 124.14,31.19 C124.34,31.70 124.63,32.21 124.83,32.72 C125.03,33.23 125.21,33.66 125.35,34.25 C125.49,34.84 125.62,35.19 125.70,36.29 C125.77,37.39 125.76,39.27 125.81,40.88 C125.86,42.50 125.92,44.45 125.98,45.98 C126.04,47.51 126.17,49.04 126.16,50.06 C126.14,51.08 126.12,51.56 125.87,52.10 C125.62,52.64 125.09,53.02 124.66,53.32 C124.23,53.63 123.74,53.80 123.28,53.94 C122.82,54.07 122.36,54.14 121.90,54.14 C121.44,54.14 120.98,54.07 120.52,53.94 C120.06,53.80 119.57,53.63 119.14,53.32 C118.71,53.02 118.18,52.64 117.93,52.10 C117.68,51.56 117.66,51.08 117.65,50.06 C117.63,49.04 117.76,47.51 117.82,45.98 C117.88,44.45 117.94,42.50 117.99,40.88 C118.04,39.27 118.03,37.39 118.11,36.29 C118.18,35.19 118.31,34.84 118.45,34.25 C118.59,33.66 118.77,33.23 118.97,32.72 C119.17,32.21 119.46,31.70 119.66,31.19 C119.86,30.68 119.99,30.17 120.18,29.66 C120.36,29.15 120.39,28.64 120.75,28.13 C121.11,27.62 121.98,26.60 122.36,26.60 Z" fill="#1f38e8" filter="url(#bl)"/>
<ellipse cx="121.90" cy="28.10" rx="0.9" ry="1.4" fill="#a0b8ff" filter="url(#bl)"/>
<ellipse cx="121.90" cy="36.60" rx="3.2" ry="4.6" fill="#18d4e8" filter="url(#bl)"/>
<ellipse cx="121.90" cy="36.10" rx="1.5" ry="2.2" fill="#40f0a0" filter="url(#bl)"/>
<ellipse cx="121.90" cy="49.10" rx="3.4" ry="3.6" fill="#20dcb0" filter="url(#bl)"/>
<ellipse cx="121.90" cy="48.60" rx="1.6" ry="1.8" fill="#90f850" filter="url(#bl)"/>
<circle cx="118.50" cy="46.80" r="1.5" fill="#e83a14" filter="url(#bl)"/>
<circle cx="125.30" cy="46.80" r="1.5" fill="#e83a14" filter="url(#bl)"/>
<path d="M118.50,41.80 L121.90,44.20 L125.30,41.80" stroke="#f6eef8" stroke-width="1.9" fill="none" filter="url(#bl)"/>
<path d="M132.10,53.50 L132.70,80.50" stroke="#4a30b0" stroke-width="1.6" filter="url(#bl)" opacity="0.9"/>
<path d="M132.56,27.50 C132.94,27.50 133.04,28.52 133.25,29.03 C133.46,29.54 133.64,30.05 133.82,30.56 C134.01,31.07 134.14,31.58 134.34,32.09 C134.54,32.60 134.83,33.11 135.03,33.62 C135.23,34.13 135.41,34.55 135.55,35.15 C135.69,35.74 135.82,36.08 135.89,37.19 C135.97,38.30 135.96,40.16 136.01,41.78 C136.06,43.40 136.12,45.35 136.18,46.88 C136.24,48.41 136.37,49.94 136.35,50.96 C136.34,51.98 136.32,52.46 136.07,53.00 C135.82,53.54 135.29,53.92 134.86,54.22 C134.43,54.53 133.94,54.70 133.48,54.84 C133.02,54.97 132.56,55.04 132.10,55.04 C131.64,55.04 131.18,54.97 130.72,54.84 C130.26,54.70 129.77,54.53 129.34,54.22 C128.91,53.92 128.38,53.54 128.13,53.00 C127.88,52.46 127.86,51.98 127.84,50.96 C127.83,49.94 127.96,48.41 128.02,46.88 C128.07,45.35 128.14,43.40 128.19,41.78 C128.24,40.16 128.23,38.30 128.31,37.19 C128.38,36.08 128.51,35.74 128.65,35.15 C128.79,34.55 128.97,34.13 129.17,33.62 C129.37,33.11 129.66,32.60 129.86,32.09 C130.06,31.58 130.19,31.07 130.38,30.56 C130.56,30.05 130.59,29.54 130.95,29.03 C131.31,28.52 132.18,27.50 132.56,27.50 Z" fill="#1f38e8" filter="url(#bl)"/>
<ellipse cx="132.10" cy="29.00" rx="0.9" ry="1.4" fill="#a0b8ff" filter="url(#bl)"/>
<ellipse cx="132.10" cy="37.50" rx="3.2" ry="4.6" fill="#18d4e8" filter="url(#bl)"/>
<ellipse cx="132.10" cy="37.00" rx="1.5" ry="2.2" fill="#40f0a0" filter="url(#bl)"/>
<ellipse cx="132.10" cy="50.00" rx="3.4" ry="3.6" fill="#20dcb0" filter="url(#bl)"/>
<ellipse cx="132.10" cy="49.50" rx="1.6" ry="1.8" fill="#90f850" filter="url(#bl)"/>
<circle cx="128.70" cy="47.70" r="1.5" fill="#e83a14" filter="url(#bl)"/>
<circle cx="135.50" cy="47.70" r="1.5" fill="#e83a14" filter="url(#bl)"/>
<path d="M128.70,42.70 L132.10,45.10 L135.50,42.70" stroke="#f6eef8" stroke-width="1.9" fill="none" filter="url(#bl)"/>
<rect x="141.2" y="22.5" width="55.0" height="62.0" fill="#0e0e0e"/>
<rect x="142.39999999999998" y="23.7" width="52.6" height="59.6" fill="#1a1a1a"/>
<polygon points="146.90,54.10 148.90,54.10 147.90,74.00 146.70,74.00" fill="#ea2020" filter="url(#bl)"/>
<path d="M147.30,73.00 L147.30,76.50" stroke="#e8a0b8" stroke-width="1.2" filter="url(#bl)"/>
<path d="M147.30,76.00 L147.30,79.00" stroke="#48a8e0" stroke-width="1.3" filter="url(#bl)"/>
<path d="M148.40,28.10 C148.90,28.10 149.08,29.10 149.40,29.60 C149.72,30.10 150.02,30.52 150.30,31.10 C150.58,31.68 150.88,32.35 151.10,33.10 C151.32,33.85 151.48,34.43 151.60,35.60 C151.72,36.77 151.75,38.35 151.80,40.10 C151.85,41.85 151.88,44.27 151.90,46.10 C151.92,47.93 151.98,49.77 151.90,51.10 C151.82,52.43 151.68,53.33 151.40,54.10 C151.12,54.87 150.78,55.32 150.20,55.70 C149.62,56.08 148.67,56.40 147.90,56.40 C147.13,56.40 146.18,56.08 145.60,55.70 C145.02,55.32 144.68,54.87 144.40,54.10 C144.12,53.33 143.98,52.43 143.90,51.10 C143.82,49.77 143.88,47.93 143.90,46.10 C143.92,44.27 143.95,41.85 144.00,40.10 C144.05,38.35 144.08,36.77 144.20,35.60 C144.32,34.43 144.48,33.85 144.70,33.10 C144.92,32.35 145.22,31.68 145.50,31.10 C145.78,30.52 145.92,30.10 146.40,29.60 C146.88,29.10 147.90,28.10 148.40,28.10 Z" fill="#f21414" filter="url(#bl)"/>
<polygon points="155.60,54.10 157.60,54.10 156.90,74.00 155.70,74.00" fill="#ea2020" filter="url(#bl)"/>
<path d="M156.30,73.00 L156.30,76.50" stroke="#e8a0b8" stroke-width="1.2" filter="url(#bl)"/>
<path d="M156.30,76.00 L156.30,79.00" stroke="#48a8e0" stroke-width="1.3" filter="url(#bl)"/>
<path d="M157.10,28.10 C157.60,28.10 157.78,29.10 158.10,29.60 C158.42,30.10 158.72,30.52 159.00,31.10 C159.28,31.68 159.58,32.35 159.80,33.10 C160.02,33.85 160.18,34.43 160.30,35.60 C160.42,36.77 160.45,38.35 160.50,40.10 C160.55,41.85 160.58,44.27 160.60,46.10 C160.62,47.93 160.68,49.77 160.60,51.10 C160.52,52.43 160.38,53.33 160.10,54.10 C159.82,54.87 159.48,55.32 158.90,55.70 C158.32,56.08 157.37,56.40 156.60,56.40 C155.83,56.40 154.88,56.08 154.30,55.70 C153.72,55.32 153.38,54.87 153.10,54.10 C152.82,53.33 152.68,52.43 152.60,51.10 C152.52,49.77 152.58,47.93 152.60,46.10 C152.62,44.27 152.65,41.85 152.70,40.10 C152.75,38.35 152.78,36.77 152.90,35.60 C153.02,34.43 153.18,33.85 153.40,33.10 C153.62,32.35 153.92,31.68 154.20,31.10 C154.48,30.52 154.62,30.10 155.10,29.60 C155.58,29.10 156.60,28.10 157.10,28.10 Z" fill="#f21414" filter="url(#bl)"/>
<polygon points="166.60,52.40 168.60,52.40 168.20,74.00 167.00,74.00" fill="#ea2020" filter="url(#bl)"/>
<path d="M167.60,73.00 L167.60,76.50" stroke="#e8a0b8" stroke-width="1.2" filter="url(#bl)"/>
<path d="M167.60,76.00 L167.60,79.00" stroke="#48a8e0" stroke-width="1.3" filter="url(#bl)"/>
<ellipse cx="167.60" cy="25.80" rx="2.0" ry="1.3" fill="#4a30d0" filter="url(#bl2)"/>
<path d="M168.10,26.40 C168.60,26.40 168.78,27.40 169.10,27.90 C169.42,28.40 169.72,28.82 170.00,29.40 C170.28,29.98 170.58,30.65 170.80,31.40 C171.02,32.15 171.18,32.73 171.30,33.90 C171.42,35.07 171.45,36.65 171.50,38.40 C171.55,40.15 171.58,42.57 171.60,44.40 C171.62,46.23 171.68,48.07 171.60,49.40 C171.52,50.73 171.38,51.63 171.10,52.40 C170.82,53.17 170.48,53.62 169.90,54.00 C169.32,54.38 168.37,54.70 167.60,54.70 C166.83,54.70 165.88,54.38 165.30,54.00 C164.72,53.62 164.38,53.17 164.10,52.40 C163.82,51.63 163.68,50.73 163.60,49.40 C163.52,48.07 163.58,46.23 163.60,44.40 C163.62,42.57 163.65,40.15 163.70,38.40 C163.75,36.65 163.78,35.07 163.90,33.90 C164.02,32.73 164.18,32.15 164.40,31.40 C164.62,30.65 164.92,29.98 165.20,29.40 C165.48,28.82 165.62,28.40 166.10,27.90 C166.58,27.40 167.60,26.40 168.10,26.40 Z" fill="#f21414" filter="url(#bl)"/>
<polygon points="177.10,52.40 179.10,52.40 179.00,74.00 177.80,74.00" fill="#ea2020" filter="url(#bl)"/>
<path d="M178.40,73.00 L178.40,76.50" stroke="#e8a0b8" stroke-width="1.2" filter="url(#bl)"/>
<path d="M178.40,76.00 L178.40,79.00" stroke="#48a8e0" stroke-width="1.3" filter="url(#bl)"/>
<ellipse cx="178.10" cy="25.80" rx="2.0" ry="1.3" fill="#4a30d0" filter="url(#bl2)"/>
<path d="M178.60,26.40 C179.10,26.40 179.28,27.40 179.60,27.90 C179.92,28.40 180.22,28.82 180.50,29.40 C180.78,29.98 181.08,30.65 181.30,31.40 C181.52,32.15 181.68,32.73 181.80,33.90 C181.92,35.07 181.95,36.65 182.00,38.40 C182.05,40.15 182.08,42.57 182.10,44.40 C182.12,46.23 182.18,48.07 182.10,49.40 C182.02,50.73 181.88,51.63 181.60,52.40 C181.32,53.17 180.98,53.62 180.40,54.00 C179.82,54.38 178.87,54.70 178.10,54.70 C177.33,54.70 176.38,54.38 175.80,54.00 C175.22,53.62 174.88,53.17 174.60,52.40 C174.32,51.63 174.18,50.73 174.10,49.40 C174.02,48.07 174.08,46.23 174.10,44.40 C174.12,42.57 174.15,40.15 174.20,38.40 C174.25,36.65 174.28,35.07 174.40,33.90 C174.52,32.73 174.68,32.15 174.90,31.40 C175.12,30.65 175.42,29.98 175.70,29.40 C175.98,28.82 176.12,28.40 176.60,27.90 C177.08,27.40 178.10,26.40 178.60,26.40 Z" fill="#f21414" filter="url(#bl)"/>
<polygon points="186.60,51.50 188.60,51.50 188.80,74.00 187.60,74.00" fill="#ea2020" filter="url(#bl)"/>
<path d="M188.20,73.00 L188.20,76.50" stroke="#e8a0b8" stroke-width="1.2" filter="url(#bl)"/>
<path d="M188.20,76.00 L188.20,79.00" stroke="#48a8e0" stroke-width="1.3" filter="url(#bl)"/>
<ellipse cx="187.60" cy="24.90" rx="2.0" ry="1.3" fill="#4a30d0" filter="url(#bl2)"/>
<path d="M188.10,25.50 C188.60,25.50 188.78,26.50 189.10,27.00 C189.42,27.50 189.72,27.92 190.00,28.50 C190.28,29.08 190.58,29.75 190.80,30.50 C191.02,31.25 191.18,31.83 191.30,33.00 C191.42,34.17 191.45,35.75 191.50,37.50 C191.55,39.25 191.58,41.67 191.60,43.50 C191.62,45.33 191.68,47.17 191.60,48.50 C191.52,49.83 191.38,50.73 191.10,51.50 C190.82,52.27 190.48,52.72 189.90,53.10 C189.32,53.48 188.37,53.80 187.60,53.80 C186.83,53.80 185.88,53.48 185.30,53.10 C184.72,52.72 184.38,52.27 184.10,51.50 C183.82,50.73 183.68,49.83 183.60,48.50 C183.52,47.17 183.58,45.33 183.60,43.50 C183.62,41.67 183.65,39.25 183.70,37.50 C183.75,35.75 183.78,34.17 183.90,33.00 C184.02,31.83 184.18,31.25 184.40,30.50 C184.62,29.75 184.92,29.08 185.20,28.50 C185.48,27.92 185.62,27.50 186.10,27.00 C186.58,26.50 187.60,25.50 188.10,25.50 Z" fill="#f21414" filter="url(#bl)"/>
<circle cx="186.6" cy="41.5" r="0.9" fill="#f0b020" filter="url(#bl)"/>
<circle cx="152.3" cy="40.0" r="1.1" fill="#901010" filter="url(#bl)"/>
<text transform="translate(199.8,52.3) scale(0.9,1)" x="0" y="0" font-size="10.0" text-anchor="start" font-weight="normal" fill="#111" font-family='"Liberation Sans", sans-serif'>EV</text>
<text transform="translate(200.8,115.6) scale(0.9,1)" x="0" y="0" font-size="10.0" text-anchor="start" font-weight="normal" fill="#111" font-family='"Liberation Sans", sans-serif'>Cre</text>
<text transform="translate(60.9,159.6) scale(0.9,1)" x="0" y="0" font-size="10.0" text-anchor="middle" font-weight="normal" fill="#111" font-family='"Liberation Sans", sans-serif'>3</text>
<text transform="translate(112.5,159.6) scale(0.9,1)" x="0" y="0" font-size="10.0" text-anchor="middle" font-weight="normal" fill="#111" font-family='"Liberation Sans", sans-serif'>7</text>
<text transform="translate(169.7,159.6) scale(0.88,1)" x="0" y="0" font-size="10.0" text-anchor="start" font-weight="normal" fill="#111" font-family='"Liberation Sans", sans-serif'>10 days</text>
<text x="217.2" y="13.4" font-size="16.8" text-anchor="start" font-weight="bold" font-style="normal" fill="#111" font-family='"Liberation Sans", sans-serif' >B</text>
<text x="264.2" y="15.8" font-size="11" fill="#111" font-family='"Liberation Sans", sans-serif'>Sox4<tspan font-size="7.4" dx="1.0" dy="-4.2">fl/fl</tspan></text>
<line x1="264.4" y1="22.6" x2="264.4" y2="144.9" stroke="#000" stroke-width="1.6" />
<line x1="263.6" y1="144.6" x2="426.6" y2="144.6" stroke="#000" stroke-width="1.6" />
<line x1="260.2" y1="144.2" x2="264.4" y2="144.2" stroke="#000" stroke-width="1.5" />
<text x="258.3" y="144.4" font-size="8.9" text-anchor="end" font-weight="normal" font-style="normal" fill="#111" font-family='"Liberation Sans", sans-serif' >0</text>
<line x1="260.2" y1="120.01999999999998" x2="264.4" y2="120.01999999999998" stroke="#000" stroke-width="1.5" />
<text x="258.3" y="121.3" font-size="8.9" text-anchor="end" font-weight="normal" font-style="normal" fill="#111" font-family='"Liberation Sans", sans-serif' >20</text>
<line x1="260.2" y1="95.83999999999999" x2="264.4" y2="95.83999999999999" stroke="#000" stroke-width="1.5" />
<text x="258.3" y="97.8" font-size="8.9" text-anchor="end" font-weight="normal" font-style="normal" fill="#111" font-family='"Liberation Sans", sans-serif' >40</text>
<line x1="260.2" y1="71.66" x2="264.4" y2="71.66" stroke="#000" stroke-width="1.5" />
<text x="258.3" y="74.89999999999999" font-size="8.9" text-anchor="end" font-weight="normal" font-style="normal" fill="#111" font-family='"Liberation Sans", sans-serif' >60</text>
<line x1="260.2" y1="47.47999999999999" x2="264.4" y2="47.47999999999999" stroke="#000" stroke-width="1.5" />
<text x="258.3" y="51.7" font-size="8.9" text-anchor="end" font-weight="normal" font-style="normal" fill="#111" font-family='"Liberation Sans", sans-serif' >80</text>
<line x1="260.2" y1="23.299999999999983" x2="264.4" y2="23.299999999999983" stroke="#000" stroke-width="1.5" />
<text x="258.3" y="28.8" font-size="8.9" text-anchor="end" font-weight="normal" font-style="normal" fill="#111" font-family='"Liberation Sans", sans-serif' >100</text>
<line x1="263.9" y1="144.6" x2="263.9" y2="147.6" stroke="#000" stroke-width="1.2" />
<text x="262.0" y="159.7" font-size="9.3" text-anchor="middle" font-weight="normal" font-style="normal" fill="#111" font-family='"Liberation Sans", sans-serif' >0</text>
<line x1="300.25" y1="144.6" x2="300.25" y2="147.6" stroke="#000" stroke-width="1.2" />
<text x="298.7" y="159.7" font-size="9.3" text-anchor="middle" font-weight="normal" font-style="normal" fill="#111" font-family='"Liberation Sans", sans-serif' >20</text>
<line x1="336.59999999999997" y1="144.6" x2="336.59999999999997" y2="147.6" stroke="#000" stroke-width="1.2" />
<text x="335.2" y="159.7" font-size="9.3" text-anchor="middle" font-weight="normal" font-style="normal" fill="#111" font-family='"Liberation Sans", sans-serif' >40</text>
<line x1="372.95" y1="144.6" x2="372.95" y2="147.6" stroke="#000" stroke-width="1.2" />
<text x="371.5" y="159.7" font-size="9.3" text-anchor="middle" font-weight="normal" font-style="normal" fill="#111" font-family='"Liberation Sans", sans-serif' >60</text>
<line x1="409.29999999999995" y1="144.6" x2="409.29999999999995" y2="147.6" stroke="#000" stroke-width="1.2" />
<text x="408.4" y="159.7" font-size="9.3" text-anchor="middle" font-weight="normal" font-style="normal" fill="#111" font-family='"Liberation Sans", sans-serif' >80</text>
<text x="415.79999999999995" y="159.7" font-size="9.3" text-anchor="start" font-weight="normal" font-style="normal" fill="#111" font-family='"Liberation Sans", sans-serif' >days</text>
<text transform="translate(234.9,80.4) rotate(-90)" x="0" y="0" font-size="11.7" text-anchor="middle" font-weight="normal" fill="#111" font-family='"Liberation Sans", sans-serif'>Overall survival [%]</text>
<polyline points="264.40,23.30 309.60,23.30 309.60,40.59 312.30,40.59 312.30,57.88 327.00,57.88 327.00,75.17 336.40,75.17 336.40,92.33 347.70,92.33 347.70,109.62 370.80,109.62 370.80,126.91 426.00,126.91" fill="none" stroke="#8e0f1c" stroke-width="2.6" stroke-linejoin="miter" stroke-linecap="butt"/>
<polyline points="284.20,24.50 284.20,57.88 285.30,57.88 285.30,92.33 287.20,92.33 287.20,144.20" fill="none" stroke="#17781c" stroke-width="2.3" stroke-linejoin="miter" stroke-linecap="butt"/>
<polyline points="264.40,23.30 309.60,23.30" fill="none" stroke="#8e0f1c" stroke-width="2.6" stroke-linejoin="miter" stroke-linecap="butt"/>
<text transform="translate(291.9,140.0) scale(0.9,1)" x="0" y="0" font-size="10.0" text-anchor="start" font-weight="normal" fill="#111" font-family='"Liberation Sans", sans-serif'>EV</text>
<text transform="translate(429.7,129.1) scale(0.9,1)" x="0" y="0" font-size="10.0" text-anchor="start" font-weight="normal" fill="#111" font-family='"Liberation Sans", sans-serif'>Cre</text>
<text transform="translate(362.4,84.3) scale(0.92,1)" font-size="9.8" fill="#111" font-family='"Liberation Sans", sans-serif'><tspan font-style="italic">P</tspan>=0.0007</text>
<text x="357.8" y="32.4" font-size="9.3" fill="#111" font-family='"Liberation Sans", sans-serif'>Sox4<tspan font-size="6.2" dx="0.3" dy="-3.0">fl/fl</tspan><tspan dx="-0.9" dy="3.0"> EV</tspan></text>
<text x="357.8" y="46.6" font-size="9.3" fill="#111" font-family='"Liberation Sans", sans-serif'>Sox4<tspan font-size="6.2" dx="0.3" dy="-3.0">fl/fl</tspan><tspan dx="-0.9" dy="3.0"> Cre</tspan></text>
<line x1="406.8" y1="29.5" x2="421.0" y2="29.5" stroke="#17781c" stroke-width="3.0" />
<line x1="406.8" y1="43.5" x2="421.0" y2="43.5" stroke="#8e0f1c" stroke-width="3.0" />
<text x="12.8" y="189.9" font-size="17.0" text-anchor="start" font-weight="bold" font-style="normal" fill="#111" font-family='"Liberation Sans", sans-serif' >C</text>
<polygon points="9.5,186.8 11.3,220 12.9,280 13.9,335.7 4.6,335.7 5.9,280 7.7,220" fill="url(#gtri)"/>
<text transform="translate(12.3,333.6) rotate(-90)" font-size="7.95" font-weight="bold" fill="#fff" font-family='"Liberation Sans", sans-serif'>CpG-methylation</text>
<text transform="translate(25.7,264.1) rotate(-90)" x="0" y="0" font-size="10.4" text-anchor="middle" font-weight="normal" fill="#111" font-family='"Liberation Sans", sans-serif'>Log HpaII/MspI</text>
<line x1="45.8" y1="188.0" x2="45.8" y2="335.0" stroke="#000" stroke-width="1.2" />
<line x1="45.2" y1="334.5" x2="106.2" y2="334.5" stroke="#000" stroke-width="1.2" />
<line x1="42.8" y1="218.2" x2="45.8" y2="218.2" stroke="#000" stroke-width="1.1" />
<text transform="translate(38.2,218.2) rotate(-90)" x="0" y="0" font-size="7.2" text-anchor="middle" font-weight="bold" fill="#2b3a33" font-family='"Liberation Sans", sans-serif'>4</text>
<line x1="42.8" y1="253.1" x2="45.8" y2="253.1" stroke="#000" stroke-width="1.1" />
<text transform="translate(38.2,253.1) rotate(-90)" x="0" y="0" font-size="7.2" text-anchor="middle" font-weight="bold" fill="#2b3a33" font-family='"Liberation Sans", sans-serif'>3</text>
<line x1="42.8" y1="288.0" x2="45.8" y2="288.0" stroke="#000" stroke-width="1.1" />
<text transform="translate(38.2,288.0) rotate(-90)" x="0" y="0" font-size="7.2" text-anchor="middle" font-weight="bold" fill="#2b3a33" font-family='"Liberation Sans", sans-serif'>2</text>
<line x1="42.8" y1="322.9" x2="45.8" y2="322.9" stroke="#000" stroke-width="1.1" />
<text transform="translate(38.2,322.9) rotate(-90)" x="0" y="0" font-size="7.2" text-anchor="middle" font-weight="bold" fill="#2b3a33" font-family='"Liberation Sans", sans-serif'>1</text>
<line x1="63.4" y1="334.5" x2="63.4" y2="337.0" stroke="#000" stroke-width="1.1" />
<line x1="88.5" y1="334.5" x2="88.5" y2="337.0" stroke="#000" stroke-width="1.1" />
<text x="79.0" y="204.8" font-size="11.0" text-anchor="start" font-weight="normal" font-style="italic" fill="#111" font-family='"Liberation Sans", sans-serif' >SOX4</text>
<circle cx="63.10" cy="292.10" r="1.4" fill="#2a0808"/>
<circle cx="59.40" cy="194.70" r="1.55" fill="#8e0000"/>
<circle cx="60.90" cy="195.90" r="1.55" fill="#8e0000"/>
<circle cx="63.60" cy="193.20" r="1.55" fill="#8e0000"/>
<circle cx="64.70" cy="198.20" r="1.55" fill="#8e0000"/>
<circle cx="62.80" cy="200.50" r="1.55" fill="#8e0000"/>
<circle cx="65.90" cy="201.60" r="1.55" fill="#8e0000"/>
<circle cx="64.00" cy="203.20" r="1.55" fill="#8e0000"/>
<circle cx="59.40" cy="205.50" r="1.55" fill="#8e0000"/>
<circle cx="61.70" cy="205.10" r="1.55" fill="#8e0000"/>
<circle cx="64.00" cy="205.50" r="1.55" fill="#8e0000"/>
<circle cx="65.50" cy="207.00" r="1.55" fill="#8e0000"/>
<circle cx="59.70" cy="207.80" r="1.55" fill="#8e0000"/>
<circle cx="62.00" cy="207.40" r="1.55" fill="#8e0000"/>
<circle cx="64.70" cy="208.90" r="1.55" fill="#8e0000"/>
<circle cx="66.30" cy="209.70" r="1.55" fill="#8e0000"/>
<circle cx="63.20" cy="211.20" r="1.55" fill="#8e0000"/>
<circle cx="65.50" cy="212.00" r="1.55" fill="#8e0000"/>
<circle cx="60.90" cy="214.30" r="1.55" fill="#8e0000"/>
<circle cx="64.00" cy="213.90" r="1.55" fill="#8e0000"/>
<circle cx="66.30" cy="215.00" r="1.55" fill="#8e0000"/>
<circle cx="62.40" cy="215.80" r="1.55" fill="#8e0000"/>
<circle cx="60.90" cy="215.10" r="1.55" fill="#8e0000"/>
<circle cx="64.00" cy="213.50" r="1.55" fill="#8e0000"/>
<circle cx="66.30" cy="215.80" r="1.55" fill="#8e0000"/>
<circle cx="60.10" cy="218.90" r="1.55" fill="#8e0000"/>
<circle cx="62.40" cy="219.70" r="1.55" fill="#8e0000"/>
<circle cx="66.60" cy="219.70" r="1.55" fill="#8e0000"/>
<circle cx="61.30" cy="222.00" r="1.55" fill="#8e0000"/>
<circle cx="65.50" cy="221.60" r="1.55" fill="#8e0000"/>
<circle cx="63.80" cy="217.50" r="1.55" fill="#8e0000"/>
<circle cx="67.20" cy="217.80" r="1.55" fill="#8e0000"/>
<circle cx="59.60" cy="221.00" r="1.55" fill="#8e0000"/>
<circle cx="63.50" cy="222.50" r="1.55" fill="#8e0000"/>
<circle cx="60.90" cy="225.80" r="1.55" fill="#8e0000"/>
<circle cx="62.40" cy="227.30" r="1.55" fill="#8e0000"/>
<circle cx="60.10" cy="228.10" r="1.55" fill="#8e0000"/>
<circle cx="66.30" cy="228.50" r="1.55" fill="#8e0000"/>
<circle cx="64.70" cy="230.00" r="1.55" fill="#8e0000"/>
<circle cx="63.20" cy="231.10" r="1.55" fill="#8e0000"/>
<circle cx="60.10" cy="232.30" r="1.55" fill="#8e0000"/>
<circle cx="61.70" cy="233.10" r="1.55" fill="#8e0000"/>
<circle cx="59.40" cy="234.20" r="1.55" fill="#8e0000"/>
<circle cx="61.30" cy="235.00" r="1.55" fill="#8e0000"/>
<circle cx="63.20" cy="235.70" r="1.55" fill="#8e0000"/>
<circle cx="60.50" cy="237.30" r="1.55" fill="#8e0000"/>
<circle cx="65.50" cy="238.40" r="1.55" fill="#8e0000"/>
<circle cx="61.70" cy="238.80" r="1.55" fill="#8e0000"/>
<circle cx="63.50" cy="240.40" r="1.55" fill="#8e0000"/>
<circle cx="64.90" cy="241.80" r="1.55" fill="#8e0000"/>
<circle cx="59.50" cy="243.20" r="1.55" fill="#8e0000"/>
<circle cx="61.40" cy="243.90" r="1.55" fill="#8e0000"/>
<circle cx="62.40" cy="245.00" r="1.55" fill="#8e0000"/>
<circle cx="66.00" cy="245.80" r="1.55" fill="#8e0000"/>
<circle cx="62.50" cy="247.30" r="1.55" fill="#8e0000"/>
<circle cx="64.40" cy="247.10" r="1.55" fill="#8e0000"/>
<circle cx="61.50" cy="254.40" r="1.55" fill="#8e0000"/>
<circle cx="60.70" cy="259.30" r="1.55" fill="#8e0000"/>
<circle cx="64.80" cy="259.70" r="1.55" fill="#8e0000"/>
<circle cx="65.10" cy="262.10" r="1.55" fill="#8e0000"/>
<circle cx="60.70" cy="273.60" r="1.55" fill="#8e0000"/>
<line x1="54.8" y1="223.6" x2="71.3" y2="223.6" stroke="#3a0606" stroke-width="1.8" />
<circle cx="88.10" cy="244.20" r="1.25" fill="#111"/>
<circle cx="89.40" cy="243.60" r="1.25" fill="#111"/>
<circle cx="90.90" cy="251.80" r="1.25" fill="#111"/>
<circle cx="91.40" cy="256.60" r="1.25" fill="#111"/>
<circle cx="84.90" cy="262.50" r="1.25" fill="#111"/>
<circle cx="87.60" cy="264.70" r="1.25" fill="#111"/>
<circle cx="88.10" cy="266.40" r="1.25" fill="#111"/>
<circle cx="84.90" cy="268.50" r="1.25" fill="#111"/>
<circle cx="89.20" cy="277.30" r="1.25" fill="#111"/>
<circle cx="90.90" cy="280.00" r="1.25" fill="#111"/>
<line x1="79.9" y1="261.3" x2="97.5" y2="261.3" stroke="#111" stroke-width="1.8" />
<polyline points="63.5,295.6 63.5,299.6 93.2,299.6 93.2,295.6" fill="none" stroke="#8a8a8a" stroke-width="1.6"/>
<text x="66.6" y="312.6" font-size="6.9" text-anchor="start" font-weight="normal" font-style="normal" fill="#444" font-family='"Liberation Sans", sans-serif' >P=1.50e-6</text>
<text x="23.2" y="350.0" font-size="10.3" text-anchor="start" font-weight="normal" font-style="normal" fill="#111" font-family='"Liberation Sans", sans-serif' >BCR-ABL1</text>
<text x="82.6" y="350.0" font-size="10.3" text-anchor="start" font-weight="normal" font-style="normal" fill="#111" font-family='"Liberation Sans", sans-serif' >pre-B cells</text>
<text x="148.1" y="189.7" font-size="17.0" text-anchor="start" font-weight="bold" font-style="normal" fill="#111" font-family='"Liberation Sans", sans-serif' >D</text>
<line x1="188.2" y1="194.8" x2="188.2" y2="332.8" stroke="#000" stroke-width="1.2" />
<line x1="187.6" y1="332.3" x2="295.6" y2="332.3" stroke="#000" stroke-width="1.2" />
<line x1="185.2" y1="198.2" x2="188.2" y2="198.2" stroke="#000" stroke-width="1.1" />
<text transform="translate(182.3,198.2) rotate(-90) scale(1.0,0.78)" x="0" y="0" font-size="7.8" text-anchor="middle" font-weight="bold" fill="#111" font-family='"Liberation Serif", serif'>2.4</text>
<line x1="185.2" y1="221.79999999999998" x2="188.2" y2="221.79999999999998" stroke="#000" stroke-width="1.1" />
<text transform="translate(182.3,221.79999999999998) rotate(-90) scale(1.0,0.78)" x="0" y="0" font-size="7.8" text-anchor="middle" font-weight="bold" fill="#111" font-family='"Liberation Serif", serif'>2.2</text>
<line x1="185.2" y1="245.39999999999998" x2="188.2" y2="245.39999999999998" stroke="#000" stroke-width="1.1" />
<text transform="translate(182.3,245.39999999999998) rotate(-90) scale(1.0,0.78)" x="0" y="0" font-size="7.8" text-anchor="middle" font-weight="bold" fill="#111" font-family='"Liberation Serif", serif'>2.0</text>
<line x1="185.2" y1="269.0" x2="188.2" y2="269.0" stroke="#000" stroke-width="1.1" />
<text transform="translate(182.3,269.0) rotate(-90) scale(1.0,0.78)" x="0" y="0" font-size="7.8" text-anchor="middle" font-weight="bold" fill="#111" font-family='"Liberation Serif", serif'>1.8</text>
<line x1="185.2" y1="292.6" x2="188.2" y2="292.6" stroke="#000" stroke-width="1.1" />
<text transform="translate(182.3,292.6) rotate(-90) scale(1.0,0.78)" x="0" y="0" font-size="7.8" text-anchor="middle" font-weight="bold" fill="#111" font-family='"Liberation Serif", serif'>1.6</text>
<line x1="185.2" y1="316.2" x2="188.2" y2="316.2" stroke="#000" stroke-width="1.1" />
<text transform="translate(182.3,316.2) rotate(-90) scale(1.0,0.78)" x="0" y="0" font-size="7.8" text-anchor="middle" font-weight="bold" fill="#111" font-family='"Liberation Serif", serif'>1.4</text>
<text transform="translate(165.2,258.2) rotate(-90)" x="0" y="0" font-size="11.45" text-anchor="middle" font-weight="normal" fill="#111" font-family='"Liberation Sans", sans-serif'>SOX4 mRNA levels</text>
<line x1="216.9" y1="332.3" x2="216.9" y2="335.3" stroke="#000" stroke-width="1.1" />
<line x1="266.6" y1="332.3" x2="266.6" y2="335.3" stroke="#000" stroke-width="1.1" />
<circle cx="224.00" cy="239.80" r="1.12" fill="#111"/>
<circle cx="216.60" cy="253.20" r="1.12" fill="#111"/>
<circle cx="224.10" cy="263.20" r="1.12" fill="#111"/>
<circle cx="223.00" cy="267.60" r="1.12" fill="#111"/>
<circle cx="221.00" cy="269.90" r="1.12" fill="#111"/>
<circle cx="213.90" cy="271.30" r="1.12" fill="#111"/>
<circle cx="212.10" cy="277.80" r="1.12" fill="#111"/>
<circle cx="218.00" cy="278.50" r="1.12" fill="#111"/>
<circle cx="224.10" cy="278.50" r="1.12" fill="#111"/>
<circle cx="216.20" cy="280.20" r="1.12" fill="#111"/>
<circle cx="224.10" cy="281.60" r="1.12" fill="#111"/>
<circle cx="224.40" cy="284.80" r="1.12" fill="#111"/>
<circle cx="211.40" cy="286.40" r="1.12" fill="#111"/>
<circle cx="216.90" cy="287.10" r="1.12" fill="#111"/>
<circle cx="220.30" cy="289.10" r="1.12" fill="#111"/>
<circle cx="223.40" cy="291.90" r="1.12" fill="#111"/>
<circle cx="216.60" cy="297.00" r="1.12" fill="#111"/>
<circle cx="223.70" cy="297.30" r="1.12" fill="#111"/>
<circle cx="221.60" cy="302.10" r="1.12" fill="#111"/>
<circle cx="217.30" cy="303.50" r="1.12" fill="#111"/>
<circle cx="220.30" cy="306.90" r="1.12" fill="#111"/>
<circle cx="214.50" cy="312.30" r="1.12" fill="#111"/>
<circle cx="210.70" cy="317.80" r="1.12" fill="#111"/>
<circle cx="211.20" cy="319.70" r="1.12" fill="#111"/>
<circle cx="215.20" cy="327.30" r="1.12" fill="#111"/>
<circle cx="221.00" cy="270.70" r="1.12" fill="#111"/>
<circle cx="217.40" cy="303.80" r="1.12" fill="#111"/>
<circle cx="221.20" cy="307.60" r="1.12" fill="#111"/>
<circle cx="210.30" cy="317.80" r="1.12" fill="#111"/>
<line x1="202.5" y1="287.8" x2="232.6" y2="287.8" stroke="#111" stroke-width="1.8" />
<circle cx="259.70" cy="199.80" r="1.12" fill="#5e0a14"/>
<circle cx="272.30" cy="213.00" r="1.12" fill="#5e0a14"/>
<circle cx="263.80" cy="247.40" r="1.12" fill="#5e0a14"/>
<circle cx="271.60" cy="246.60" r="1.12" fill="#5e0a14"/>
<circle cx="267.00" cy="251.80" r="1.12" fill="#5e0a14"/>
<circle cx="274.10" cy="251.50" r="1.12" fill="#5e0a14"/>
<circle cx="270.80" cy="264.30" r="1.12" fill="#5e0a14"/>
<circle cx="273.30" cy="262.60" r="1.12" fill="#5e0a14"/>
<circle cx="265.10" cy="270.30" r="1.12" fill="#5e0a14"/>
<circle cx="260.50" cy="274.40" r="1.12" fill="#5e0a14"/>
<circle cx="268.40" cy="279.80" r="1.12" fill="#5e0a14"/>
<circle cx="260.00" cy="283.00" r="1.12" fill="#5e0a14"/>
<circle cx="272.10" cy="283.90" r="1.12" fill="#5e0a14"/>
<circle cx="259.30" cy="290.50" r="1.12" fill="#5e0a14"/>
<circle cx="266.20" cy="292.80" r="1.12" fill="#5e0a14"/>
<circle cx="268.70" cy="292.10" r="1.12" fill="#5e0a14"/>
<circle cx="267.00" cy="294.40" r="1.12" fill="#5e0a14"/>
<circle cx="269.80" cy="302.10" r="1.12" fill="#5e0a14"/>
<circle cx="261.30" cy="304.90" r="1.12" fill="#5e0a14"/>
<circle cx="260.50" cy="310.30" r="1.12" fill="#5e0a14"/>
<circle cx="271.10" cy="309.50" r="1.12" fill="#5e0a14"/>
<line x1="251.5" y1="273.1" x2="283.0" y2="273.1" stroke="#8e0f1c" stroke-width="1.9" />
<text x="188.0" y="350.8" font-size="10.4" text-anchor="start" font-weight="normal" font-style="normal" fill="#111" font-family='"Liberation Sans", sans-serif' >Intermediate</text>
<text x="188.0" y="363.6" font-size="10.4" text-anchor="start" font-weight="normal" font-style="normal" fill="#111" font-family='"Liberation Sans", sans-serif' >risk; n=31</text>
<text x="262.5" y="350.8" font-size="10.4" text-anchor="start" font-weight="normal" font-style="normal" fill="#111" font-family='"Liberation Sans", sans-serif' >high risk,</text>
<text x="262.5" y="363.6" font-size="10.4" text-anchor="start" font-weight="normal" font-style="normal" fill="#111" font-family='"Liberation Sans", sans-serif' >n=23</text>
<text x="301.1" y="189.8" font-size="17.0" text-anchor="start" font-weight="bold" font-style="normal" fill="#111" font-family='"Liberation Sans", sans-serif' >E</text>
<text x="346.8" y="197.2" font-size="11.3" text-anchor="start" font-weight="normal" font-style="normal" fill="#111" font-family='"Liberation Sans", sans-serif' >COG P9906; n=207</text>
<line x1="341.2" y1="202.2" x2="341.2" y2="333.0" stroke="#333" stroke-width="1.4" />
<line x1="340.6" y1="332.5" x2="471.2" y2="332.5" stroke="#222" stroke-width="1.4" />
<line x1="338.4" y1="206.6" x2="341.2" y2="206.6" stroke="#333" stroke-width="1.1" />
<text x="335.6" y="211.35" font-size="9.6" text-anchor="end" font-weight="normal" font-style="normal" fill="#111" font-family='"Liberation Sans", sans-serif' >100</text>
<line x1="338.4" y1="230.7" x2="341.2" y2="230.7" stroke="#333" stroke-width="1.1" />
<text x="335.6" y="235.04999999999998" font-size="9.6" text-anchor="end" font-weight="normal" font-style="normal" fill="#111" font-family='"Liberation Sans", sans-serif' >80</text>
<line x1="338.4" y1="254.8" x2="341.2" y2="254.8" stroke="#333" stroke-width="1.1" />
<text x="335.6" y="258.85" font-size="9.6" text-anchor="end" font-weight="normal" font-style="normal" fill="#111" font-family='"Liberation Sans", sans-serif' >60</text>
<line x1="338.4" y1="278.9" x2="341.2" y2="278.9" stroke="#333" stroke-width="1.1" />
<text x="335.6" y="281.95000000000005" font-size="9.6" text-anchor="end" font-weight="normal" font-style="normal" fill="#111" font-family='"Liberation Sans", sans-serif' >40</text>
<line x1="338.4" y1="303.0" x2="341.2" y2="303.0" stroke="#333" stroke-width="1.1" />
<text x="335.6" y="304.95000000000005" font-size="9.6" text-anchor="end" font-weight="normal" font-style="normal" fill="#111" font-family='"Liberation Sans", sans-serif' >20</text>
<line x1="338.4" y1="327.1" x2="341.2" y2="327.1" stroke="#333" stroke-width="1.1" />
<text x="335.6" y="327.85" font-size="9.6" text-anchor="end" font-weight="normal" font-style="normal" fill="#111" font-family='"Liberation Sans", sans-serif' >0</text>
<line x1="341.0" y1="332.5" x2="341.0" y2="335.3" stroke="#222" stroke-width="1.1" />
<text x="341.0" y="346.6" font-size="9.8" text-anchor="middle" font-weight="normal" font-style="normal" fill="#111" font-family='"Liberation Sans", sans-serif' >0</text>
<line x1="362.6" y1="332.5" x2="362.6" y2="335.3" stroke="#222" stroke-width="1.1" />
<text x="362.6" y="346.6" font-size="9.8" text-anchor="middle" font-weight="normal" font-style="normal" fill="#111" font-family='"Liberation Sans", sans-serif' >1</text>
<line x1="384.2" y1="332.5" x2="384.2" y2="335.3" stroke="#222" stroke-width="1.1" />
<text x="384.2" y="346.6" font-size="9.8" text-anchor="middle" font-weight="normal" font-style="normal" fill="#111" font-family='"Liberation Sans", sans-serif' >2</text>
<line x1="405.8" y1="332.5" x2="405.8" y2="335.3" stroke="#222" stroke-width="1.1" />
<text x="405.8" y="346.6" font-size="9.8" text-anchor="middle" font-weight="normal" font-style="normal" fill="#111" font-family='"Liberation Sans", sans-serif' >3</text>
<line x1="427.4" y1="332.5" x2="427.4" y2="335.3" stroke="#222" stroke-width="1.1" />
<text x="427.4" y="346.6" font-size="9.8" text-anchor="middle" font-weight="normal" font-style="normal" fill="#111" font-family='"Liberation Sans", sans-serif' >4</text>
<line x1="449.0" y1="332.5" x2="449.0" y2="335.3" stroke="#222" stroke-width="1.1" />
<text x="449.0" y="346.6" font-size="9.8" text-anchor="middle" font-weight="normal" font-style="normal" fill="#111" font-family='"Liberation Sans", sans-serif' >5</text>
<line x1="470.6" y1="332.5" x2="470.6" y2="335.3" stroke="#222" stroke-width="1.1" />
<text x="470.6" y="346.6" font-size="9.8" text-anchor="middle" font-weight="normal" font-style="normal" fill="#111" font-family='"Liberation Sans", sans-serif' >6</text>
<text x="479.0" y="346.6" font-size="9.6" text-anchor="start" font-weight="normal" font-style="normal" fill="#111" font-family='"Liberation Sans", sans-serif' >Years</text>
<text transform="translate(316.2,260.0) rotate(-90)" x="0" y="0" font-size="11.7" text-anchor="middle" font-weight="normal" fill="#111" font-family='"Liberation Sans", sans-serif'>Overall survival [%]</text>
<polyline points="340.70,206.30 362.90,206.30 362.90,208.70 369.00,208.70 369.00,209.90 384.40,209.90 384.40,211.80 389.80,211.80 389.80,213.50 400.60,213.50 400.60,215.20 401.50,215.20 401.50,217.00 406.20,217.00 406.20,219.60 411.50,219.60 411.50,220.40 433.10,220.40 433.10,224.50 476.20,224.50" fill="none" stroke="#1d7a22" stroke-width="1.9" stroke-linejoin="miter" stroke-linecap="butt"/>
<polyline points="340.70,206.30 346.10,206.30 346.10,208.70 351.50,208.70 351.50,212.10 357.50,212.10 357.50,216.40 368.30,216.40 368.30,217.80 373.00,217.80 373.00,220.20 378.40,220.20 378.40,221.50 384.40,221.50 384.40,222.90 389.80,222.90 389.80,224.90 400.60,224.90 400.60,226.00 402.30,226.00 402.30,227.30 406.90,227.30 406.90,228.40 411.50,228.40 411.50,229.60 416.60,229.60 416.60,232.40 427.70,232.40 427.70,233.90 454.60,233.90 454.60,240.40 459.20,240.40 459.20,248.10 470.80,248.10" fill="none" stroke="#8a1222" stroke-width="1.9" stroke-linejoin="miter" stroke-linecap="butt"/>
<line x1="436" y1="223.3" x2="436" y2="225.7" stroke="#1d7a22" stroke-width="0.9" />
<line x1="441" y1="223.3" x2="441" y2="225.7" stroke="#1d7a22" stroke-width="0.9" />
<line x1="446" y1="223.3" x2="446" y2="225.7" stroke="#1d7a22" stroke-width="0.9" />
<line x1="451" y1="223.3" x2="451" y2="225.7" stroke="#1d7a22" stroke-width="0.9" />
<line x1="456" y1="223.3" x2="456" y2="225.7" stroke="#1d7a22" stroke-width="0.9" />
<line x1="461" y1="223.3" x2="461" y2="225.7" stroke="#1d7a22" stroke-width="0.9" />
<line x1="466" y1="223.3" x2="466" y2="225.7" stroke="#1d7a22" stroke-width="0.9" />
<line x1="471" y1="223.3" x2="471" y2="225.7" stroke="#1d7a22" stroke-width="0.9" />
<line x1="431" y1="232.7" x2="431" y2="235.1" stroke="#8a1222" stroke-width="0.9" />
<line x1="436" y1="232.7" x2="436" y2="235.1" stroke="#8a1222" stroke-width="0.9" />
<line x1="441" y1="232.7" x2="441" y2="235.1" stroke="#8a1222" stroke-width="0.9" />
<line x1="446" y1="232.7" x2="446" y2="235.1" stroke="#8a1222" stroke-width="0.9" />
<line x1="451" y1="232.7" x2="451" y2="235.1" stroke="#8a1222" stroke-width="0.9" />
<text x="480.0" y="226.8" font-size="10.2" font-weight="bold" fill="#1d7a22" font-family='"Liberation Sans", sans-serif'>Sox4<tspan font-size="7" dy="-3.9">Low</tspan></text>
<text x="476.6" y="254.0" font-size="10.2" font-weight="bold" fill="#8a1222" font-family='"Liberation Sans", sans-serif'>Sox4<tspan font-size="6.6" dy="-4.2">High</tspan></text>
<text x="353.6" y="306.2" font-size="9.2" text-anchor="start" font-weight="normal" font-style="normal" fill="#111" font-family='"Liberation Sans", sans-serif' >1567906_at</text>
<text x="353.6" y="318.6" font-size="9.2" fill="#111" font-family='"Liberation Sans", sans-serif'><tspan font-style="italic">P</tspan>=0.0461</text>
</svg>
</body></html>
